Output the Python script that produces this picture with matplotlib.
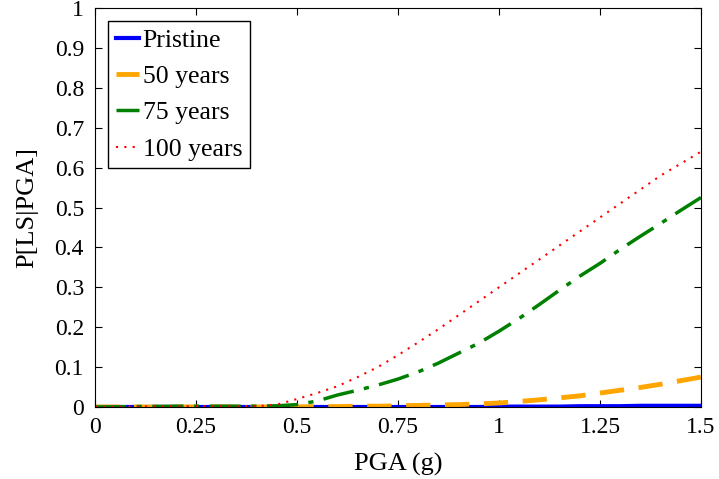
import numpy as np
import matplotlib.pyplot as plt

plt.rcParams['font.family'] = ['Liberation Serif', 'DejaVu Serif']

pga = [0.0, 0.1, 0.2, 0.3, 0.4, 0.45, 0.5, 0.55, 0.6, 0.65, 0.7, 0.75, 0.8, 0.85, 0.9, 0.95,
       1.0, 1.05, 1.1, 1.15, 1.2, 1.25, 1.3, 1.35, 1.4, 1.45, 1.5]
pristine = [0, 0, 0, 0, 0, 0, 0, 0, 0, 0, 0, 0, 0, 0, 0, 0,
            0.001, 0.001, 0.001, 0.001, 0.002, 0.002, 0.002, 0.003, 0.003, 0.003, 0.003]
y50 = [0, 0, 0, 0, 0, 0, 0, 0.001, 0.001, 0.002, 0.002, 0.003, 0.004, 0.005, 0.006, 0.008,
       0.010, 0.014, 0.018, 0.023, 0.028, 0.035, 0.042, 0.049, 0.057, 0.066, 0.075]
y75 = [0, 0.001, 0.002, 0.002, 0.002, 0.003, 0.006, 0.015, 0.03, 0.042, 0.055, 0.07, 0.088, 0.11,
       0.135, 0.16, 0.19, 0.222, 0.257, 0.293, 0.328, 0.36, 0.395, 0.428, 0.46, 0.493, 0.525]
y100 = [0, 0.001, 0.002, 0.002, 0.002, 0.006, 0.02, 0.035, 0.052, 0.075, 0.1, 0.13, 0.162, 0.195,
        0.23, 0.265, 0.30, 0.335, 0.37, 0.405, 0.44, 0.475, 0.51, 0.545, 0.58, 0.61, 0.64]

fig = plt.figure(figsize=(7.19, 4.79), dpi=100)
ax = fig.add_axes([95/719, 1 - 407/479, 606/719, 399/479])

ax.plot(pga, pristine, color='blue', lw=3, label='Pristine')
ax.plot(pga, y50, color='orange', lw=3.5, ls=(0, (5, 3)), label='50 years')
ax.plot(pga, y75, color='green', lw=2.5, ls=(0, (9, 3, 1.5, 3)), label='75 years')
ax.plot(pga, y100, color='red', lw=1.5, ls=(0, (1, 3)), label='100 years')

ax.set_xlim(0, 1.5)
ax.set_ylim(0, 1)
ax.set_xticks([0, 0.25, 0.5, 0.75, 1, 1.25, 1.5])
ax.set_xticklabels(['0', '0.25', '0.5', '0.75', '1', '1.25', '1.5'])
ax.set_yticks(np.arange(0, 1.01, 0.1))
ax.set_yticklabels(['0', '0.1', '0.2', '0.3', '0.4', '0.5', '0.6', '0.7', '0.8', '0.9', '1'])
ax.tick_params(direction='in', top=True, right=True, labelsize=17, length=5)
ax.tick_params(axis='x', pad=7)
ax.tick_params(axis='y', pad=8)
ax.set_xlabel('PGA (g)', fontsize=19, labelpad=11)
ax.set_ylabel('P[LS|PGA]', fontsize=19, labelpad=12)

leg = ax.legend(loc='upper left', fontsize=18.5, handlelength=0.9, handletextpad=0.15,
                borderaxespad=0.5, borderpad=0.3, fancybox=False, edgecolor='black',
                framealpha=1, labelspacing=0.52)
leg.get_frame().set_linewidth(1)

fig.savefig('out.png', dpi=100)
